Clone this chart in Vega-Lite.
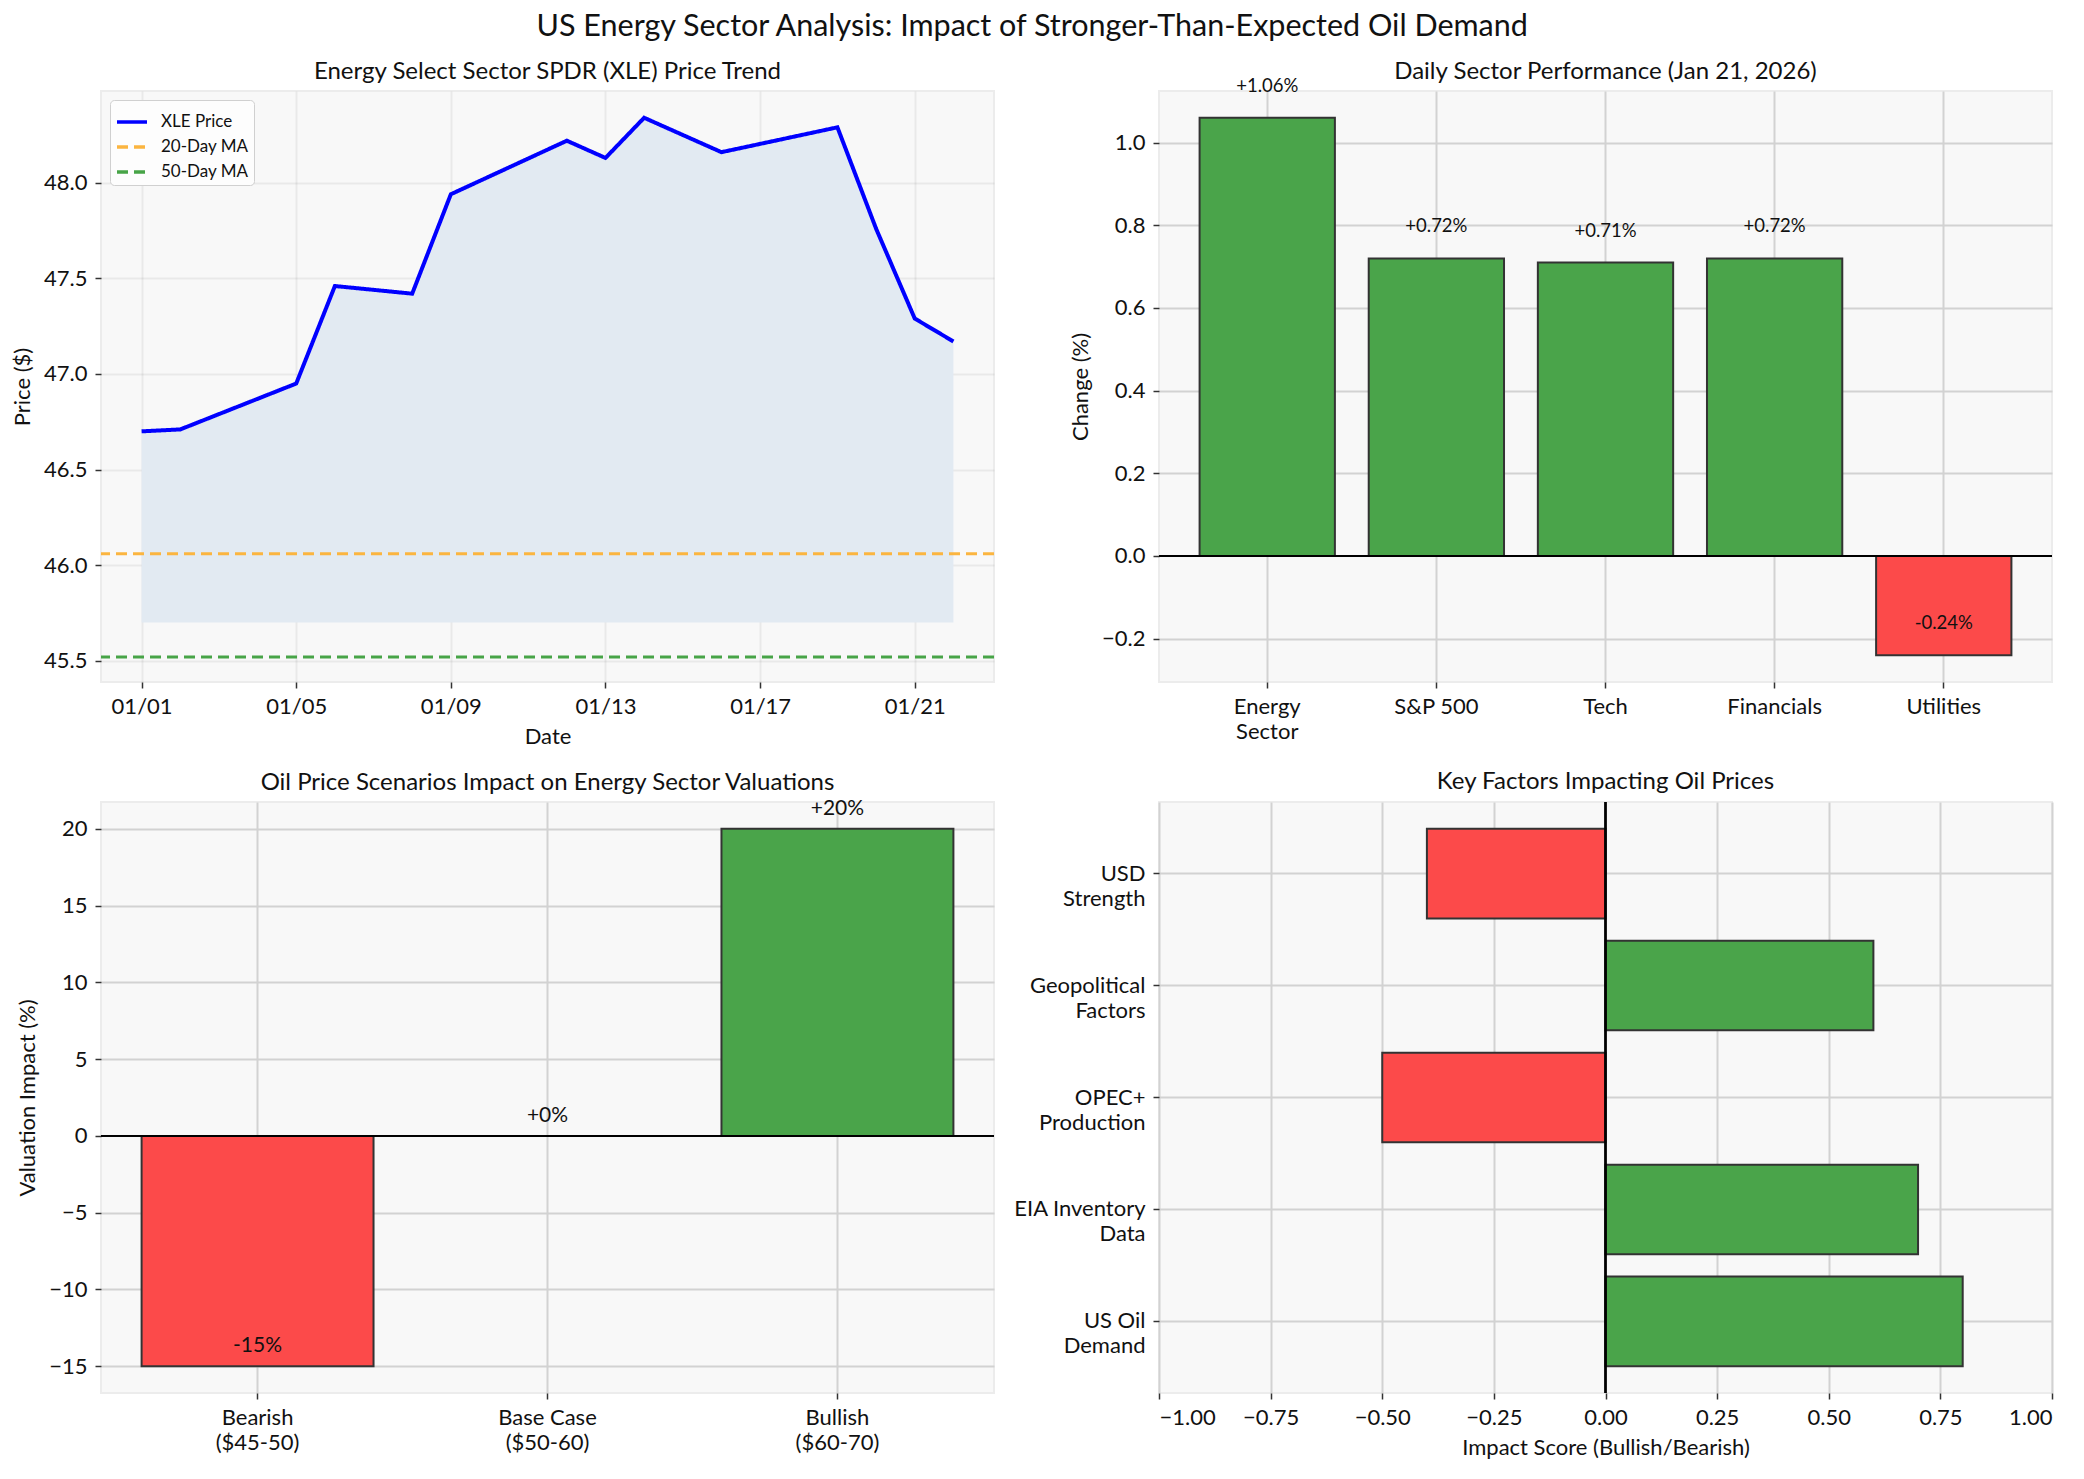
{
  "$schema": "https://vega.github.io/schema/vega-lite/v6.json",
  "background": "white",
  "padding": {"left": 10, "top": 12, "right": 20, "bottom": 10},
  "title": {
    "text": "US Energy Sector Analysis: Impact of Stronger-Than-Expected Oil Demand",
    "fontSize": 30.5,
    "anchor": "middle",
    "offset": 16
  },
  "datasets": {
    "xle": [
      {"date": "2026-01-01", "price": 46.70, "series": "XLE Price"},
      {"date": "2026-01-02", "price": 46.71, "series": "XLE Price"},
      {"date": "2026-01-05", "price": 46.95, "series": "XLE Price"},
      {"date": "2026-01-06", "price": 47.46, "series": "XLE Price"},
      {"date": "2026-01-08", "price": 47.42, "series": "XLE Price"},
      {"date": "2026-01-09", "price": 47.94, "series": "XLE Price"},
      {"date": "2026-01-12", "price": 48.22, "series": "XLE Price"},
      {"date": "2026-01-13", "price": 48.13, "series": "XLE Price"},
      {"date": "2026-01-14", "price": 48.34, "series": "XLE Price"},
      {"date": "2026-01-16", "price": 48.16, "series": "XLE Price"},
      {"date": "2026-01-19", "price": 48.29, "series": "XLE Price"},
      {"date": "2026-01-20", "price": 47.76, "series": "XLE Price"},
      {"date": "2026-01-21", "price": 47.29, "series": "XLE Price"},
      {"date": "2026-01-22", "price": 47.17, "series": "XLE Price"}
    ],
    "ma": [
      {"series": "20-Day MA", "value": 46.06},
      {"series": "50-Day MA", "value": 45.52}
    ],
    "sectors": [
      {"sector": "Energy\nSector", "change": 1.06, "label": "+1.06%"},
      {"sector": "S&P 500", "change": 0.72, "label": "+0.72%"},
      {"sector": "Tech", "change": 0.71, "label": "+0.71%"},
      {"sector": "Financials", "change": 0.72, "label": "+0.72%"},
      {"sector": "Utilities", "change": -0.24, "label": "-0.24%"}
    ],
    "scenarios": [
      {"scenario": "Bearish\n($45-50)", "impact": -15, "label": "-15%"},
      {"scenario": "Base Case\n($50-60)", "impact": 0, "label": "+0%"},
      {"scenario": "Bullish\n($60-70)", "impact": 20, "label": "+20%"}
    ],
    "factors": [
      {"factor": "US Oil\nDemand", "score": 0.8},
      {"factor": "EIA Inventory\nData", "score": 0.7},
      {"factor": "OPEC+\nProduction", "score": -0.5},
      {"factor": "Geopolitical\nFactors", "score": 0.6},
      {"factor": "USD\nStrength", "score": -0.4}
    ]
  },
  "columns": 2,
  "spacing": {"row": 120, "column": 165},
  "bounds": "flush",
  "concat": [
    {
      "width": 893,
      "height": 591,
      "title": {"text": "Energy Select Sector SPDR (XLE) Price Trend", "offset": 7},
      "layer": [
        {
          "data": {"name": "xle"},
          "mark": {"type": "area", "color": "#e2eaf2"},
          "encoding": {
            "x": {
              "field": "date",
              "type": "temporal",
              "title": "Date",
              "scale": {
                "type": "utc",
                "domain": [
                  {"year": 2025, "month": 12, "date": 30, "hours": 22, "minutes": 48, "utc": true},
                  {"year": 2026, "month": 1, "date": 23, "hours": 1, "minutes": 12, "utc": true}
                ]
              },
              "axis": {
                "values": [
                  {"year": 2026, "month": 1, "date": 1, "utc": true},
                  {"year": 2026, "month": 1, "date": 5, "utc": true},
                  {"year": 2026, "month": 1, "date": 9, "utc": true},
                  {"year": 2026, "month": 1, "date": 13, "utc": true},
                  {"year": 2026, "month": 1, "date": 17, "utc": true},
                  {"year": 2026, "month": 1, "date": 21, "utc": true}
                ],
                "format": "%m/%d",
                "labelAngle": 0,
                "gridColor": "#000000",
                "gridOpacity": 0.06
              }
            },
            "y": {
              "field": "price",
              "type": "quantitative",
              "title": "Price ($)",
              "scale": {"domain": [45.389, 48.48], "nice": false, "zero": false},
              "axis": {
                "values": [45.5, 46.0, 46.5, 47.0, 47.5, 48.0],
                "format": ".1f",
                "gridColor": "#000000",
                "gridOpacity": 0.06
              }
            },
            "y2": {"datum": 45.7}
          }
        },
        {
          "data": {"name": "ma"},
          "mark": {"type": "rule", "strokeWidth": 3},
          "encoding": {
            "y": {"field": "value", "type": "quantitative", "title": "Price ($)"},
            "color": {
              "field": "series",
              "type": "nominal",
              "scale": {"domain": ["XLE Price", "20-Day MA", "50-Day MA"], "range": ["#0000ff", "#fbb540", "#47a447"]},
              "legend": {
                "title": null, "orient": "top-left", "offset": 9, "padding": 5,
                "fillColor": "#fdfdfd", "strokeColor": "#d0d0d0", "cornerRadius": 4,
                "labelFontSize": 17, "labelColor": "#111111", "symbolType": "stroke",
                "symbolSize": 900, "symbolStrokeWidth": 3.5, "labelOffset": 12, "rowPadding": -9
              }
            },
            "strokeDash": {
              "field": "series",
              "type": "nominal",
              "scale": {"domain": ["XLE Price", "20-Day MA", "50-Day MA"], "range": [[1, 0], [11, 6], [11, 6]]},
              "legend": {
                "title": null, "orient": "top-left", "offset": 9, "padding": 5,
                "fillColor": "#fdfdfd", "strokeColor": "#d0d0d0", "cornerRadius": 4,
                "labelFontSize": 17, "labelColor": "#111111", "symbolType": "stroke",
                "symbolSize": 900, "symbolStrokeWidth": 3.5, "labelOffset": 12, "rowPadding": -9
              }
            }
          }
        },
        {
          "data": {"name": "xle"},
          "mark": {"type": "line", "strokeWidth": 4},
          "encoding": {
            "x": {"field": "date", "type": "temporal", "title": "Date"},
            "y": {"field": "price", "type": "quantitative", "title": "Price ($)"},
            "color": {"field": "series", "type": "nominal"},
            "strokeDash": {"field": "series", "type": "nominal"}
          }
        }
      ]
    },
    {
      "width": 893,
      "height": 591,
      "title": {"text": "Daily Sector Performance (Jan 21, 2026)", "offset": -7},
      "data": {"name": "sectors"},
      "layer": [
        {
          "mark": {"type": "bar", "stroke": "#333333", "strokeWidth": 2},
          "encoding": {
            "x": {
              "field": "sector",
              "type": "nominal",
              "sort": null,
              "title": null,
              "scale": {"paddingInner": 0.2, "paddingOuter": 0.24},
              "axis": {"labelAngle": 0, "labelExpr": "split(datum.label, '\\n')", "labelLineHeight": 25, "grid": true, "bandPosition": 0.5}
            },
            "y": {
              "field": "change",
              "type": "quantitative",
              "title": "Change (%)",
              "scale": {"domain": [-0.305, 1.125], "nice": false},
              "axis": {
                "values": [-0.2, 0, 0.2, 0.4, 0.6, 0.8, 1.0],
                "format": ".1f",
                "gridOpacity": {"condition": {"test": "datum.value === 0", "value": 0}, "value": 1}
              }
            },
            "color": {"condition": {"test": "datum.change < 0", "value": "#fc4a4a"}, "value": "#4aa44a"}
          }
        },
        {
          "mark": {"type": "text", "baseline": "alphabetic", "dy": -26, "fontSize": 18.5, "color": "#111111"},
          "encoding": {
            "x": {"field": "sector", "type": "nominal", "sort": null},
            "y": {"field": "change", "type": "quantitative"},
            "text": {"field": "label"}
          }
        },
        {
          "mark": {"type": "rule", "color": "#000000", "strokeWidth": 1.7},
          "encoding": {"y": {"datum": 0}}
        }
      ]
    },
    {
      "width": 893,
      "height": 591,
      "title": {"text": "Oil Price Scenarios Impact on Energy Sector Valuations", "offset": 3},
      "data": {"name": "scenarios"},
      "layer": [
        {
          "mark": {"type": "bar", "stroke": "#333333", "strokeWidth": 2},
          "encoding": {
            "x": {
              "field": "scenario",
              "type": "nominal",
              "sort": null,
              "title": null,
              "scale": {"paddingInner": 0.2, "paddingOuter": 0.14},
              "axis": {"labelAngle": 0, "labelExpr": "split(datum.label, '\\n')", "labelLineHeight": 25, "grid": true, "bandPosition": 0.5}
            },
            "y": {
              "field": "impact",
              "type": "quantitative",
              "title": "Valuation Impact (%)",
              "scale": {"domain": [-16.75, 21.75], "nice": false},
              "axis": {
                "values": [-15, -10, -5, 0, 5, 10, 15, 20],
                "gridOpacity": {"condition": {"test": "datum.value === 0", "value": 0}, "value": 1}
              }
            },
            "color": {"condition": {"test": "datum.impact < 0", "value": "#fc4a4a"}, "value": "#4aa44a"}
          }
        },
        {
          "mark": {"type": "text", "baseline": "alphabetic", "dy": -14, "fontSize": 21, "color": "#111111"},
          "encoding": {
            "x": {"field": "scenario", "type": "nominal", "sort": null},
            "y": {"field": "impact", "type": "quantitative"},
            "text": {"field": "label"}
          }
        },
        {
          "mark": {"type": "rule", "color": "#000000", "strokeWidth": 1.7},
          "encoding": {"y": {"datum": 0}}
        }
      ]
    },
    {
      "width": 893,
      "height": 591,
      "title": {"text": "Key Factors Impacting Oil Prices", "offset": 7},
      "data": {"name": "factors"},
      "layer": [
        {
          "mark": {"type": "bar", "stroke": "#333333", "strokeWidth": 2},
          "encoding": {
            "y": {
              "field": "factor",
              "type": "nominal",
              "title": null,
              "scale": {
                "domain": ["USD\nStrength", "Geopolitical\nFactors", "OPEC+\nProduction", "EIA Inventory\nData", "US Oil\nDemand"],
                "paddingInner": 0.2,
                "paddingOuter": 0.24
              },
              "axis": {"labelExpr": "split(datum.label, '\\n')", "labelLineHeight": 25, "grid": true, "bandPosition": 0.5}
            },
            "x": {
              "field": "score",
              "type": "quantitative",
              "title": "Impact Score (Bullish/Bearish)",
              "scale": {"domain": [-1, 1], "nice": false},
              "axis": {
                "values": [-1, -0.75, -0.5, -0.25, 0, 0.25, 0.5, 0.75, 1],
                "format": ".2f",
                "gridOpacity": {"condition": {"test": "datum.value === 0", "value": 0}, "value": 1}
              }
            },
            "color": {"condition": {"test": "datum.score < 0", "value": "#fc4a4a"}, "value": "#4aa44a"}
          }
        },
        {
          "mark": {"type": "rule", "color": "#000000", "strokeWidth": 1.7},
          "encoding": {"x": {"datum": 0}}
        }
      ]
    }
  ],
  "config": {
    "font": "Lato",
    "view": {"fill": "#f8f8f8", "stroke": "#ececec", "strokeWidth": 2},
    "title": {"fontSize": 24, "fontWeight": "normal", "color": "#111111"},
    "axis": {
      "labelFontSize": 22,
      "labelColor": "#111111",
      "titleFontSize": 22,
      "titleFontWeight": "normal",
      "titleColor": "#111111",
      "tickColor": "#333333",
      "tickSize": 6,
      "tickWidth": 1.5,
      "domain": false,
      "gridColor": "#d2d2d2",
      "gridWidth": 2,
      "labelPadding": 8,
      "titlePadding": 9,
      "zindex": 1
    }
  }
}
